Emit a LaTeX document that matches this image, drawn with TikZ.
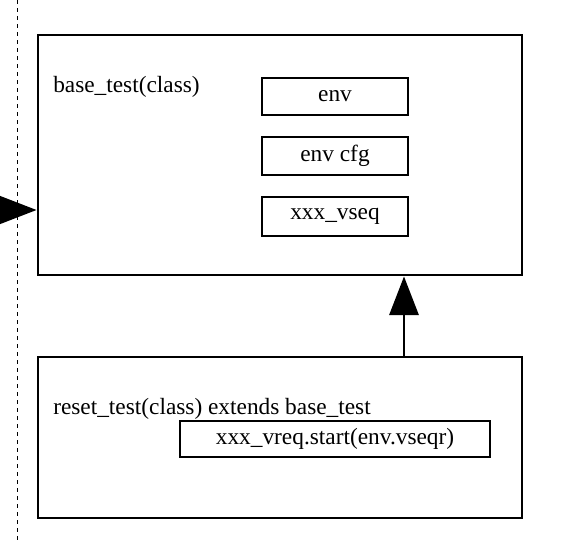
\documentclass[tikz,border=0pt]{standalone}
\usepackage{fontspec}
\setmainfont{Liberation Serif}
\usetikzlibrary{arrows.meta}
\begin{document}
\begin{tikzpicture}[x=0.75pt,y=-0.75pt,
  bigbox/.style={draw,line width=2.2pt,inner sep=0pt},
  smallbox/.style={draw,line width=2pt,inner sep=0pt,font=\fontsize{17.5}{21}\selectfont},
  lbl/.style={anchor=base west,inner sep=0pt,font=\fontsize{17.5}{21}\selectfont},
  bigarrow/.style={line width=1.6pt,-{Triangle[length=29pt,width=22pt]}}]
\useasboundingbox (0,0) rectangle (577,543);
\draw[dashed,line width=0.6pt] (17,0) -- (17,543);
% boxes
\node[bigbox,minimum width=484*0.75pt,minimum height=240*0.75pt] (base) at (280,155) {};
\node[bigbox,minimum width=484*0.75pt,minimum height=161*0.75pt] (reset) at (280,437.5) {};
\node[lbl] (basel) at (53,92) {base\_test(class)};
\node[lbl] (resetl) at (53,414) {reset\_test(class) extends base\_test};
\node[smallbox,fill=white,minimum width=146*0.75pt,minimum height=37*0.75pt] (env) at (335,96.5) {env};
\node[smallbox,minimum width=146*0.75pt,minimum height=38*0.75pt] (cfg) at (335,156) {env cfg};
\node[smallbox,minimum width=146*0.75pt,minimum height=39*0.75pt] (vseq) at (335,216.5) {xxx\_vseq};
\node[smallbox,fill=white,minimum width=310*0.75pt,minimum height=36*0.75pt] (vreq) at (335,439) {xxx\_vreq.start(env.vseqr)};
% arrows
\coordinate (src) at (-2,210);
\draw[bigarrow] (src) -- (base.west |- src);
\draw[bigarrow] (reset.north -| 404,0) -- (base.south -| 404,0);
\end{tikzpicture}
\end{document}
